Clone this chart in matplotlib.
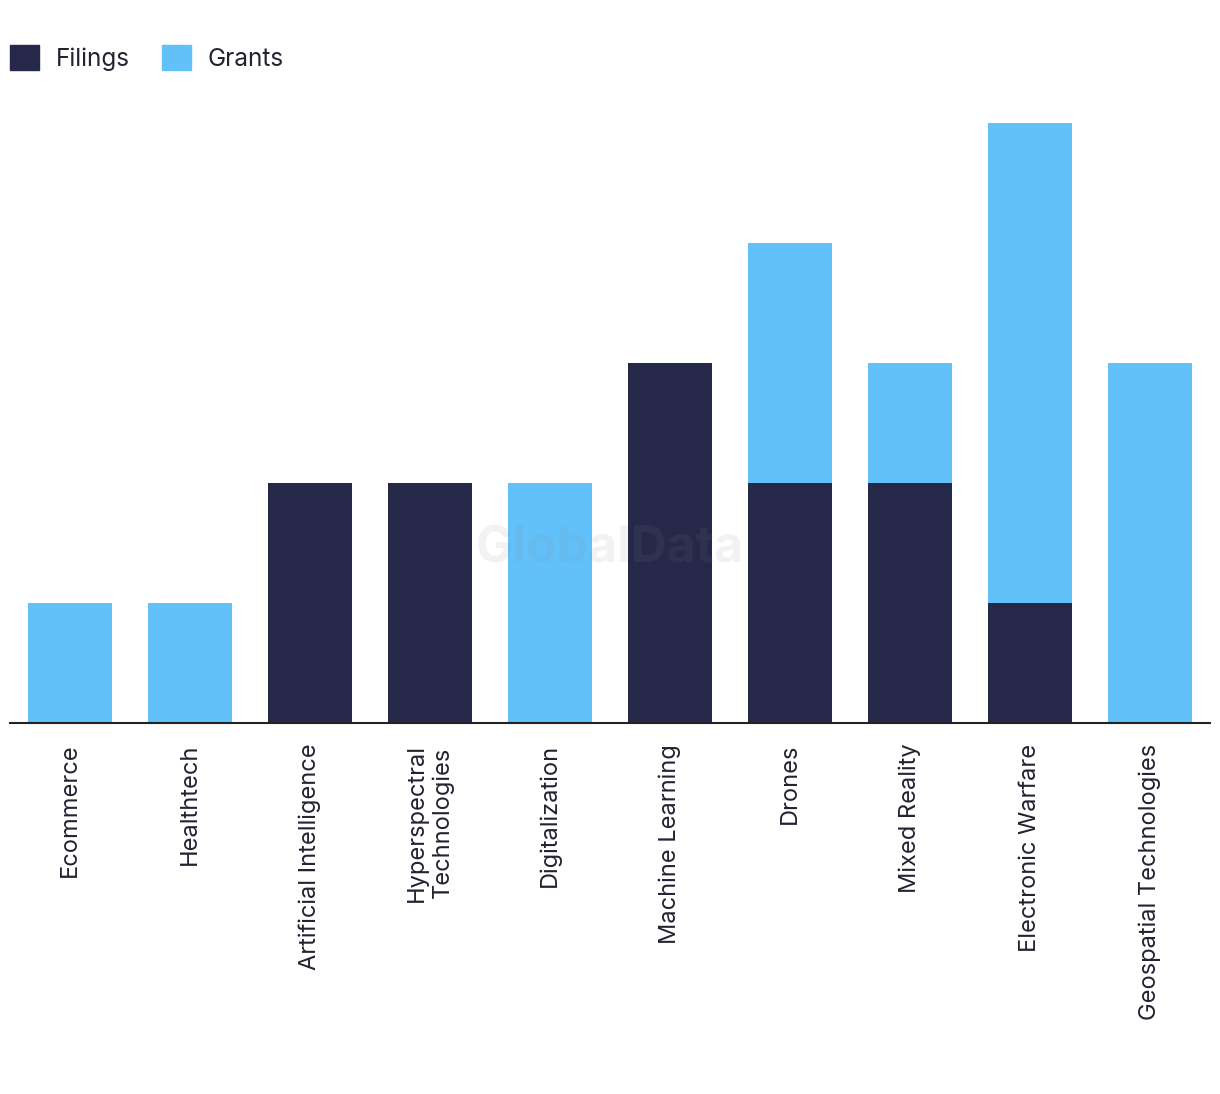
import matplotlib.pyplot as plt
import numpy as np
from matplotlib.patches import Patch

categories = [
    "Ecommerce", "Healthtech", "Artificial Intelligence",
    "Hyperspectral\nTechnologies", "Digitalization", "Machine Learning",
    "Drones", "Mixed Reality", "Electronic Warfare", "Geospatial Technologies",
]
filings = [0, 0, 2, 2, 0, 3, 2, 2, 1, 0]
grants = [1, 1, 0, 0, 2, 0, 2, 1, 4, 3]

DARK = "#262849"
LIGHT = "#62c1f9"

plt.rcParams["font.family"] = ["Inter", "DejaVu Sans"]

fig = plt.figure(figsize=(12.2, 10.94), dpi=100)
ax = fig.add_axes([10 / 1220, 1 - 723 / 1094, 1200 / 1220, 623 / 1094])

x = np.arange(len(categories))
ax.bar(x, filings, width=0.7, color=DARK, zorder=2)
ax.bar(x, grants, width=0.7, bottom=filings, color=LIGHT, zorder=2)

ax.set_xlim(-0.5, len(categories) - 0.5)
ax.set_ylim(0, 623 / 120)
ax.set_yticks([])
ax.set_xticks(x)
ax.set_xticklabels(categories, rotation=90, fontsize=17, color="#222233",
                   linespacing=1.2, va="top")
ax.tick_params(axis="x", length=0, pad=15)
for side in ("top", "right", "left"):
    ax.spines[side].set_visible(False)
ax.spines["bottom"].set_color("#222222")
ax.spines["bottom"].set_linewidth(1.5)
ax.spines["bottom"].set_zorder(3)

# faint watermark
fig.text(610 / 1220, 1 - 549 / 1094, "GlobalData", fontsize=36,
         fontweight="bold", color="#888888", alpha=0.1,
         ha="center", va="center", zorder=5)

handles = [Patch(color=DARK, label="Filings"), Patch(color=LIGHT, label="Grants")]
fig.legend(handles=handles, loc="upper left",
           bbox_to_anchor=(10 / 1220, 1 - 45 / 1094),
           ncol=2, frameon=False, fontsize=17.5, handlelength=1.2,
           handleheight=1.2, handletextpad=0.7, columnspacing=1.3,
           labelcolor="#222233", borderaxespad=0, borderpad=0)

fig.savefig("out.png", dpi=100)
